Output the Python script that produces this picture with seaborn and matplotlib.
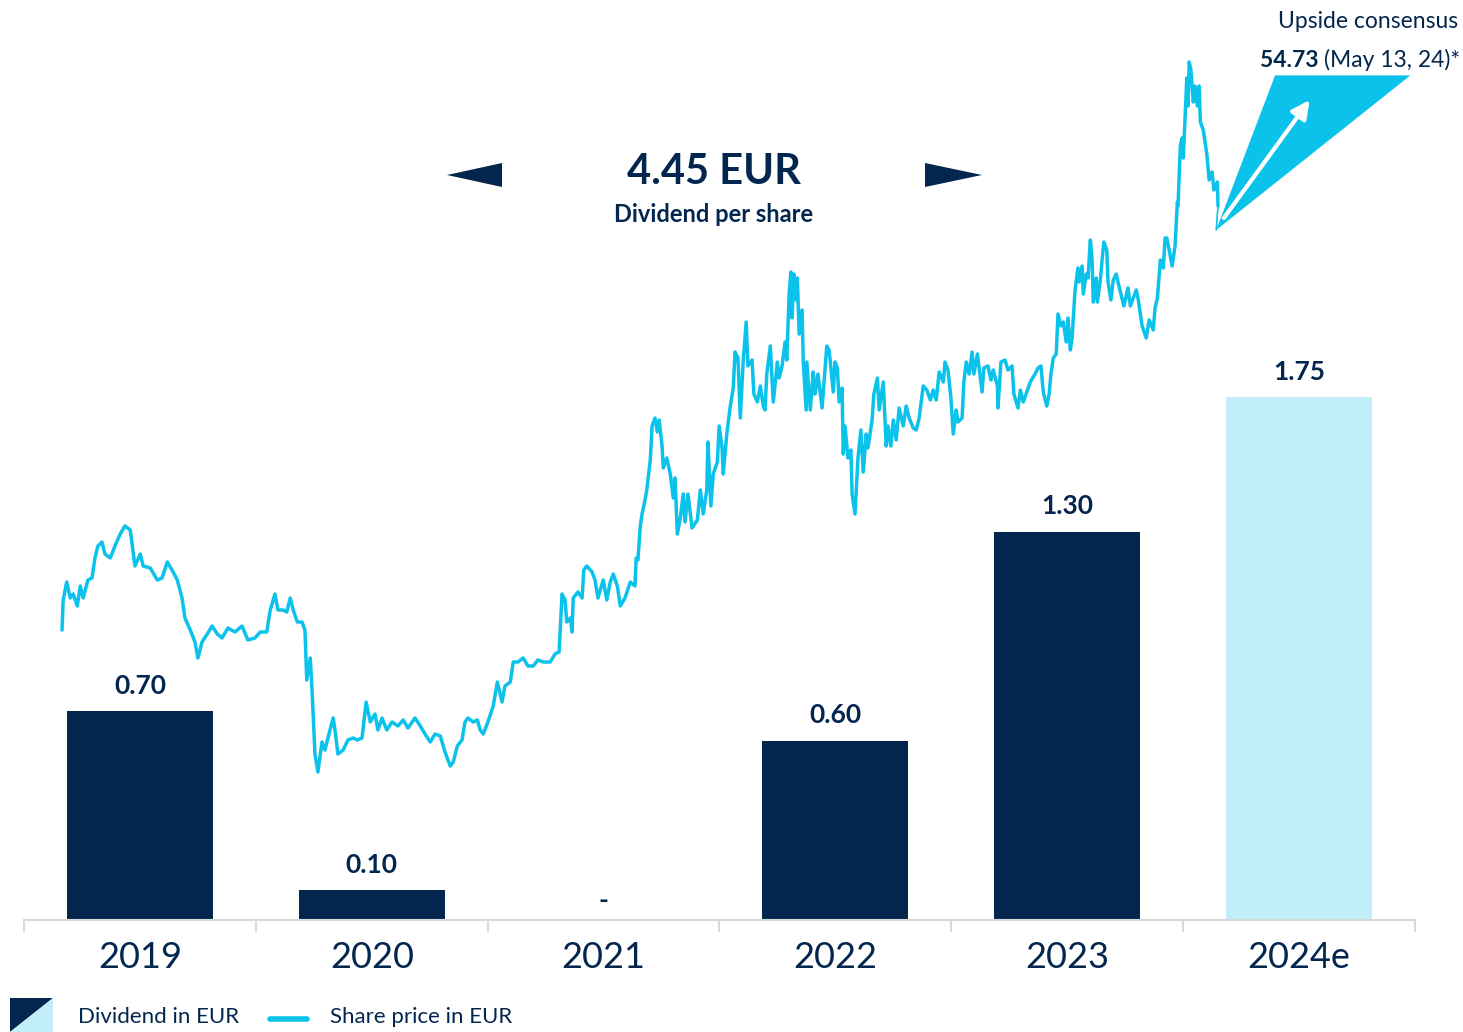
import numpy as np
import pandas as pd
import matplotlib.pyplot as plt
from matplotlib.patches import Polygon
from matplotlib.lines import Line2D
import seaborn as sns

# ---- dividend per share (EUR) ----
years = ["2019", "2020", "2021", "2022", "2023", "2024e"]
dividends = [0.70, 0.10, 0.0, 0.60, 1.30, 1.75]
div_labels = ["0.70", "0.10", "-", "0.60", "1.30", "1.75"]

# ---- share price (EUR), days since 2019-01-02 ----
price_start = "2019-01-02"
price_days = [
    0, 2, 8, 14, 19, 26, 31, 36, 44, 51, 56, 61, 68, 73, 82, 90, 99, 107, 116, 124,
    133, 138, 150, 162, 170, 179, 187, 196, 204, 209, 218, 226, 231, 238, 247, 255, 264, 272, 282, 294,
    306, 316, 328, 337, 348, 354, 362, 367, 376, 382, 388, 393, 400, 408, 413, 416, 422, 425, 430, 435,
    442, 447, 452, 461, 464, 469, 478, 486, 495, 502, 510, 517, 524, 532, 537, 544, 552, 561, 571, 580,
    588, 600, 609, 617, 626, 634, 643, 651, 660, 665, 672, 680, 685, 690, 699, 706, 711, 716, 724, 733,
    740, 748, 753, 762, 767, 775, 784, 792, 801, 809, 818, 830, 838, 845, 850, 855, 858, 864, 867, 869,
    877, 884, 887, 892, 901, 906, 911, 920, 926, 932, 937, 944, 949, 957, 966, 974, 976, 979, 983, 986,
    991, 994, 1000, 1003, 1008, 1012, 1015, 1020, 1022, 1028, 1034, 1039, 1042, 1046, 1051, 1056, 1059, 1064, 1071, 1080,
    1085, 1090, 1096, 1098, 1103, 1107, 1114, 1117, 1122, 1124, 1130, 1136, 1141, 1144, 1149, 1153, 1158, 1163, 1166, 1173,
    1176, 1182, 1187, 1192, 1195, 1198, 1204, 1209, 1216, 1219, 1224, 1229, 1232, 1236, 1239, 1241, 1244, 1248, 1250, 1253,
    1258, 1260, 1265, 1266, 1272, 1277, 1280, 1285, 1292, 1300, 1304, 1311, 1314, 1318, 1321, 1326, 1328, 1331, 1336, 1341,
    1343, 1348, 1353, 1358, 1362, 1367, 1370, 1377, 1380, 1386, 1389, 1396, 1401, 1404, 1409, 1413, 1418, 1423, 1430, 1435,
    1440, 1447, 1452, 1457, 1464, 1470, 1476, 1481, 1486, 1491, 1498, 1501, 1506, 1511, 1515, 1520, 1523, 1530, 1533, 1537,
    1542, 1547, 1550, 1556, 1559, 1564, 1567, 1574, 1579, 1583, 1590, 1591, 1596, 1603, 1608, 1615, 1618, 1625, 1629, 1634,
    1640, 1646, 1654, 1659, 1664, 1668, 1674, 1678, 1681, 1685, 1690, 1693, 1698, 1702, 1707, 1710, 1714, 1717, 1722, 1727,
    1729, 1734, 1736, 1741, 1744, 1748, 1751, 1753, 1758, 1760, 1765, 1768, 1771, 1776, 1778, 1783, 1787, 1792, 1795, 1800,
    1805, 1812, 1816, 1821, 1826, 1829, 1836, 1843, 1848, 1855, 1858, 1862, 1867, 1872, 1875, 1878, 1882, 1887, 1892, 1896,
    1897, 1901, 1904, 1906, 1909, 1912, 1914, 1916, 1919, 1923, 1926, 1930, 1933, 1935, 1940, 1946, 1950, 1955, 1958, 1964,
    1965,
]
price_eur = [
    27.0, 28.5, 29.4, 28.6, 28.8, 28.2, 29.2, 28.6, 29.5, 29.6, 30.6, 31.2, 31.4, 30.8, 30.6, 31.2, 31.8, 32.2, 32.0, 30.2,
    30.8, 30.2, 30.1, 29.5, 29.6, 30.4, 30.0, 29.5, 28.6, 27.6, 27.0, 26.4, 25.6, 26.4, 26.8, 27.2, 26.8, 26.6, 27.1, 26.9,
    27.2, 26.5, 26.6, 26.9, 26.9, 28.0, 28.8, 28.0, 28.0, 27.9, 28.6, 28.0, 27.4, 27.4, 27.0, 24.5, 25.6, 24.0, 20.8, 19.9,
    21.4, 21.0, 21.6, 22.6, 22.0, 20.8, 21.0, 21.5, 21.6, 21.5, 21.6, 23.4, 22.4, 22.8, 22.0, 22.6, 22.0, 22.4, 22.2, 22.5,
    22.1, 22.6, 22.2, 21.8, 21.4, 21.8, 21.7, 20.9, 20.2, 20.4, 21.2, 21.5, 22.4, 22.6, 22.4, 22.5, 22.0, 21.8, 22.4, 23.2,
    24.4, 23.4, 24.2, 24.4, 25.4, 25.4, 25.6, 25.2, 25.2, 25.5, 25.4, 25.4, 25.8, 25.9, 28.8, 28.5, 27.4, 27.6, 26.9, 28.6,
    28.9, 28.6, 30.0, 30.2, 29.9, 29.5, 28.6, 29.5, 28.5, 29.4, 29.8, 29.2, 28.2, 28.6, 29.4, 29.2, 30.6, 30.5, 32.2, 32.8,
    33.5, 34.0, 35.5, 37.2, 37.6, 36.9, 37.5, 36.2, 35.1, 35.6, 34.8, 33.6, 34.6, 31.8, 32.6, 33.8, 32.4, 33.8, 32.1, 32.5,
    34.0, 32.8, 34.0, 36.4, 33.2, 34.8, 35.4, 37.2, 36.1, 34.8, 36.8, 38.2, 39.1, 40.9, 40.6, 37.6, 40.5, 42.4, 40.2, 40.5,
    38.8, 38.4, 39.2, 38.2, 38.0, 39.8, 41.2, 38.4, 40.4, 39.6, 40.2, 41.4, 40.5, 43.8, 44.9, 42.6, 44.8, 43.5, 44.6, 41.8,
    43.0, 40.4, 38.0, 40.4, 38.0, 39.9, 38.8, 39.8, 38.1, 41.2, 41.0, 38.9, 40.4, 40.1, 38.4, 39.1, 35.8, 37.2, 35.6, 36.0,
    33.8, 32.8, 35.6, 37.0, 34.9, 36.8, 36.1, 37.5, 38.8, 39.6, 38.0, 39.4, 36.2, 37.2, 36.2, 37.5, 36.5, 38.1, 37.2, 38.2,
    37.6, 37.1, 37.0, 37.6, 39.2, 39.0, 38.5, 39.0, 38.5, 39.9, 39.4, 40.4, 40.0, 38.6, 36.8, 38.0, 37.4, 37.6, 39.4, 40.4,
    39.8, 40.9, 39.8, 40.8, 40.1, 38.9, 40.1, 40.2, 39.5, 40.0, 39.2, 38.1, 40.4, 40.5, 40.0, 40.2, 38.8, 38.1, 39.0, 38.4,
    38.9, 39.4, 39.8, 40.1, 40.2, 38.9, 38.2, 38.8, 39.8, 40.6, 40.8, 42.8, 42.2, 42.4, 41.4, 42.6, 41.0, 41.6, 44.0, 45.1,
    44.4, 45.2, 43.8, 44.8, 44.6, 46.5, 45.5, 43.4, 44.6, 43.4, 44.5, 45.5, 46.4, 46.0, 44.4, 43.5, 44.5, 44.8, 44.4, 43.8,
    43.2, 44.1, 43.2, 43.6, 44.0, 43.6, 42.2, 41.6, 42.5, 42.0, 43.1, 43.6, 45.5, 45.1, 46.6, 46.6, 46.0, 45.2, 46.2, 48.4,
    48.2, 51.2, 51.6, 50.6, 52.6, 54.6, 53.2, 55.4, 55.0, 53.4, 54.2, 53.2, 54.2, 52.4, 52.0, 50.8, 49.5, 49.9, 49.0, 49.4,
    48.2,
]
consensus = 54.73
consensus_text = "(May 13, 24)*"

NAVY = "#03264F"
CYAN = "#0BC3EA"
LIGHT = "#C2EEF9"
GRID = "#D9D9D9"
bar_colors = [NAVY, NAVY, NAVY, NAVY, NAVY, LIGHT]

W, H = 1463, 1032


def fxy(px, py):
    return px / W, 1 - py / H


sns.set_theme(style="white")
plt.rcParams["font.family"] = ["Lato", "DejaVu Sans"]

fig = plt.figure(figsize=(W / 100, H / 100), dpi=100)
rect = [24 / W, 112 / H, 1391 / W, 920 / H]

# ---- bars ----
ax = fig.add_axes(rect)
bars = pd.DataFrame({"year": years, "dividend": dividends})
sns.barplot(data=bars, x="year", y="dividend", hue="year", palette=bar_colors,
            saturation=1, width=0.63, linewidth=0, legend=False, ax=ax)
ax.set_xlim(-0.5, len(years) - 0.5)
ax.set_ylim(0, 3.08)
ax.set_xlabel("")
ax.set_ylabel("")
ax.set_yticks([])
for s in ["top", "right", "left"]:
    ax.spines[s].set_visible(False)
ax.spines["bottom"].set_color(GRID)
ax.spines["bottom"].set_linewidth(1.5)
ax.tick_params(axis="x", length=0, pad=15, labelsize=26, labelcolor=NAVY)

# category separators below the baseline
for i in range(len(years) + 1):
    ax.plot([i - 0.5, i - 0.5], [0, -0.012], color=GRID, lw=1.5,
            transform=ax.get_xaxis_transform(), clip_on=False)

for i, (v, lab) in enumerate(zip(dividends, div_labels)):
    off = 0.085 if v > 0 else 0.065
    ax.text(i, v + off, lab, ha="center", va="center", fontsize=19,
            fontweight="bold", color=NAVY)

# ---- share price line ----
lax = fig.add_axes(rect)
lax.patch.set_alpha(0)
sns.lineplot(x=price_days, y=price_eur, ax=lax, color=CYAN, linewidth=2.5,
             estimator=None, sort=False)
f0, f1 = (62 - 24) / 1391, (1218 - 24) / 1391
span = price_days[-1] - price_days[0]
width = span / (f1 - f0)
left = price_days[0] - f0 * width
lax.set_xlim(left, left + width)
lax.set_ylim(12.5, 58.5)
lax.axis("off")

# upside consensus wedge
last_d, last_p = price_days[-1], price_eur[-1]
wedge = Polygon([(last_d - 3, last_p - 1.2), (last_d + 97, consensus), (last_d + 327, consensus)],
                closed=True, facecolor=CYAN, edgecolor="none", clip_on=False)
lax.add_patch(wedge)
lax.plot([last_d, last_d - 3], [last_p, last_p - 1.2], color=CYAN, lw=1.2)
lax.annotate("", xy=(last_d + 156, 53.5), xytext=(last_d + 10, 47.6),
             arrowprops=dict(arrowstyle="-|>,head_length=0.9,head_width=0.45",
                             color="white", lw=3, shrinkA=0, shrinkB=0),
             annotation_clip=False)

# ---- texts ----
fig.text(*fxy(1458, 22), "Upside consensus", ha="right", va="center",
         fontsize=16.5, color=NAVY)
t2 = fig.text(*fxy(1460, 60), consensus_text, ha="right", va="center",
              fontsize=16.5, color=NAVY)
plt.annotate(f"{consensus:.2f} ", xy=(0, 0), xycoords=t2, ha="right", va="bottom",
             fontsize=16.5, fontweight="bold", color=NAVY)

fig.text(*fxy(714, 172), "4.45 EUR", ha="center", va="center", fontsize=30,
         fontweight="bold", color=NAVY)
fig.text(*fxy(714, 214), "Dividend per share", ha="center", va="center", fontsize=17,
         fontweight="bold", color=NAVY)
for pts in ([(447, 175), (502, 163), (502, 187)], [(982, 175), (925, 163), (925, 187)]):
    fig.patches.append(Polygon([fxy(*p) for p in pts], closed=True, facecolor=NAVY,
                               edgecolor="none", transform=fig.transFigure))

# ---- legend ----
fig.patches.append(Polygon([fxy(10, 998), fxy(53, 998), fxy(10, 1032)], closed=True,
                           facecolor=NAVY, edgecolor="none", transform=fig.transFigure))
fig.patches.append(Polygon([fxy(53, 998), fxy(53, 1032), fxy(10, 1032)], closed=True,
                           facecolor=LIGHT, edgecolor="none", transform=fig.transFigure))
fig.text(*fxy(78, 1017), "Dividend in EUR", ha="left", va="center", fontsize=16, color=NAVY)
fig.lines.append(Line2D([270 / W, 307 / W], [1 - 1019 / H, 1 - 1019 / H], color=CYAN, lw=4,
                        transform=fig.transFigure))
fig.text(*fxy(330, 1017), "Share price in EUR", ha="left", va="center", fontsize=16, color=NAVY)

fig.savefig("out.png", dpi=100)
